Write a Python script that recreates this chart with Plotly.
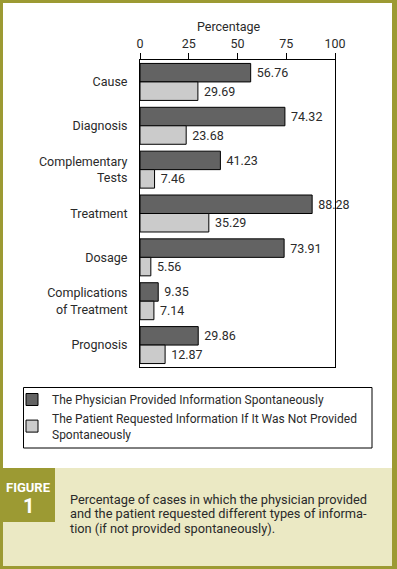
import plotly.graph_objects as go

categories = ["Cause", "Diagnosis", "Complementary<br>Tests", "Treatment", "Dosage",
              "Complications<br>of Treatment", "Prognosis"]
physician_values = [56.76, 74.32, 41.23, 88.28, 73.91, 9.35, 29.86]
patient_values = [29.69, 23.68, 7.46, 35.29, 5.56, 7.14, 12.87]
series_names = ["The Physician Provided Information Spontaneously",
                "The Patient Requested Information If It Was Not Provided<br>Spontaneously"]
x_ticks = [0, 25, 50, 75, 100]
caption_lines = ["Percentage of cases in which the physician provided",
                 "and the patient requested different types of informa-",
                 "tion (if not provided spontaneously)."]

W, H = 397, 569
FONT = "Roboto, Liberation Sans, sans-serif"
TXT = "#2a2a2a"
OLIVE = "#9c9a33"
CAPBG = "#ebe9c4"

def px(x):
    return x / W

def py(y):
    return 1 - y / H

fig = go.Figure()
fig.add_trace(go.Bar(
    y=categories, x=physician_values, orientation="h", name=series_names[0],
    marker=dict(color="#636363", line=dict(color="black", width=1)),
    text=physician_values, texttemplate="\u00a0%{x:.2f}", textposition="outside",
    textfont=dict(family=FONT, size=12.5, color=TXT), cliponaxis=False,
))
fig.add_trace(go.Bar(
    y=categories, x=patient_values, orientation="h", name=series_names[1],
    marker=dict(color="#cbcbcb", line=dict(color="black", width=1)),
    text=patient_values, texttemplate="\u00a0%{x:.2f}", textposition="outside",
    textfont=dict(family=FONT, size=12.5, color=TXT), cliponaxis=False,
))

shapes = [
    dict(type="rect", xref="paper", yref="paper", x0=px(3), x1=px(392), y0=py(3), y1=py(468),
         fillcolor="white", line=dict(width=0), layer="below"),
    dict(type="rect", xref="paper", yref="paper", x0=px(3), x1=px(392), y0=py(468), y1=py(566),
         fillcolor=CAPBG, line=dict(width=0), layer="below"),
    dict(type="rect", xref="paper", yref="paper", x0=px(3), x1=px(55), y0=py(468), y1=py(522),
         fillcolor=OLIVE, line=dict(width=0), layer="below"),
    dict(type="rect", xref="paper", yref="paper", x0=px(23.5), x1=px(372), y0=py(387.5), y1=py(448),
         fillcolor="rgba(0,0,0,0)", line=dict(color="black", width=1), layer="above"),
]

annotations = [
    dict(text="Percentage", x=px(229), y=py(26), xref="paper", yref="paper", showarrow=False,
         font=dict(family=FONT, size=12.5, color=TXT), xanchor="center", yanchor="middle"),
    dict(text="<b>FIGURE</b>", x=px(28), y=py(487), xref="paper", yref="paper", showarrow=False,
         font=dict(family=FONT, size=13, color="white"), xanchor="center", yanchor="middle"),
    dict(text="<b>1</b>", x=px(28), y=py(506), xref="paper", yref="paper", showarrow=False,
         font=dict(family=FONT, size=20, color="white"), xanchor="center", yanchor="middle"),
]
for i, line in enumerate(caption_lines):
    annotations.append(dict(text=line, x=px(68), y=py(499 + i * 14.6), xref="paper", yref="paper",
                            showarrow=False, font=dict(family=FONT, size=12.8, color=TXT),
                            xanchor="left", yanchor="middle"))

fig.update_layout(
    width=W, height=H,
    margin=dict(l=0, r=0, t=0, b=0, pad=0, autoexpand=False),
    paper_bgcolor=OLIVE, plot_bgcolor="rgba(0,0,0,0)",
    barmode="group", bargap=0.157, bargroupgap=0,
    font=dict(family=FONT, size=12.5, color=TXT),
    xaxis=dict(domain=[px(140), px(335)], range=[0, 100], side="top", tickvals=x_ticks,
               ticks="outside", ticklen=6, tickcolor="black", showline=True, linecolor="black",
               linewidth=1, mirror=True, showgrid=False, zeroline=False, automargin=False,
               tickfont=dict(family=FONT, size=12.5, color=TXT)),
    yaxis=dict(domain=[py(367), py(60)], range=[6.5, -0.5], type="category",
               showline=True, linecolor="black", linewidth=1, mirror=True, showgrid=False,
               automargin=False,
               ticks="", ticklabelstandoff=9, tickfont=dict(family=FONT, size=12.5, color=TXT)),
    legend=dict(x=px(12), y=py(385), xanchor="left", yanchor="top", bgcolor="rgba(0,0,0,0)",
                borderwidth=0, font=dict(family=FONT, size=12, color=TXT), traceorder="normal",
                tracegroupgap=0),
    showlegend=True,
    shapes=shapes,
    annotations=annotations,
)

fig.write_html(
    "out.html",
    config={"displayModeBar": False},
    post_script=("document.documentElement.style.margin='0';"
                 "document.documentElement.style.padding='0';"
                 "document.documentElement.style.overflow='hidden';"
                 "document.body.style.margin='0';"
                 "document.body.style.padding='0';"
                 "document.body.style.overflow='hidden';"),
)
